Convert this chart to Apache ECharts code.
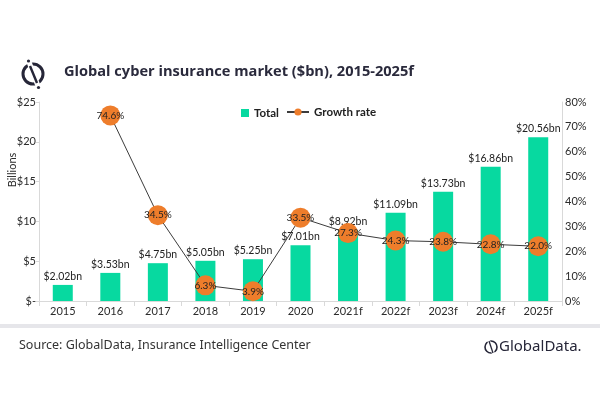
<!DOCTYPE html>
<html>
<head>
<meta charset="utf-8">
<script src="https://cdn.jsdelivr.net/npm/echarts@6/dist/echarts.min.js"></script>
<style>
    html, body { margin: 0; padding: 0; background: #fff; }
    #chart { width: 600px; height: 400px; }
</style>
</head>
<body>
<div id="chart"></div>
<script>
var years = ["2015", "2016", "2017", "2018", "2019", "2020", "2021f", "2022f", "2023f", "2024f", "2025f"];
var totals = [2.02, 3.53, 4.75, 5.05, 5.25, 7.01, 8.92, 11.09, 13.73, 16.86, 20.56];
var growth = [null, 74.6, 34.5, 6.3, 3.9, 33.5, 27.3, 24.3, 23.8, 22.8, 22.0];
var leftTicks = ["$-", "$5", "$10", "$15", "$20", "$25"];

(function() {
    var chart = echarts.init(document.getElementById("chart"), null, { renderer: "canvas" }),
        font = "Lato",
        ink = "#2b2b2b";

    var legendText = { fontSize: 11.5, fontWeight: "bold", color: "#222", fontFamily: font };

    var option = {
        backgroundColor: "#fff",
        animation: false,
        textStyle: { fontFamily: font },
        grid: { left: 39, right: 38, top: 102, bottom: 99, outerBoundsMode: "none", containLabel: false },
        legend: [
            {
                left: 236, top: 102,
                itemWidth: 8, itemHeight: 8, itemGap: 4,
                textStyle: legendText,
                data: [{ name: "Total", icon: "rect" }]
            },
            {
                left: 281, top: 101,
                itemWidth: 22, itemHeight: 9,
                textStyle: legendText,
                data: [{ name: "Growth rate" }]
            }
        ],
        graphic: [
            // logo mark
            { type: "circle", shape: { cx: 33, cy: 74, r: 10 }, style: { fill: "none", stroke: "#262638", lineWidth: 3 } },
            { type: "line", shape: { x1: 29, y1: 62, x2: 38, y2: 86 }, style: { stroke: "#fff", lineWidth: 5 } },
            { type: "line", shape: { x1: 30, y1: 66, x2: 37, y2: 83 }, style: { stroke: "#262638", lineWidth: 2.4 } },
            { type: "circle", shape: { cx: 28.5, cy: 61, r: 1.6 }, style: { fill: "#262638" } },
            { type: "circle", shape: { cx: 38.5, cy: 87.5, r: 1.6 }, style: { fill: "#262638" } },
            {
                type: "text", left: 64, top: 64,
                style: { text: "Global cyber insurance market ($bn), 2015-2025f", fill: "#2a2a3c", font: "bold 14.6px 'Open Sans'" }
            },
            // y axis title
            {
                type: "text", x: 12, y: 170, rotation: Math.PI / 2,
                style: { text: "Billions", fill: ink, font: "11px Lato", align: "center", verticalAlign: "middle" }
            },
            // grey separator band
            { type: "rect", shape: { x: 0, y: 324, width: 600, height: 4 }, style: { fill: "#e6e6ea" } },
            {
                type: "text", left: 19, top: 339,
                style: { text: "Source: GlobalData, Insurance Intelligence Center", fill: "#333", font: "12.5px 'Noto Sans'" }
            },
            // footer logo
            { type: "circle", shape: { cx: 491, cy: 347, r: 6 }, style: { fill: "none", stroke: "#262638", lineWidth: 1.6 } },
            { type: "line", shape: { x1: 488, y1: 339, x2: 494, y2: 355 }, style: { stroke: "#fff", lineWidth: 3 } },
            { type: "line", shape: { x1: 489, y1: 341, x2: 493, y2: 353 }, style: { stroke: "#262638", lineWidth: 1.3 } },
            {
                type: "text", left: 499, top: 339,
                style: { text: "GlobalData.", fill: "#262638", font: "15px 'Noto Sans'" }
            }
        ],
        xAxis: {
            type: "category",
            data: years,
            axisLine: { lineStyle: { color: "#d9d9d9" } },
            axisTick: { show: true, lineStyle: { color: "#d9d9d9" } },
            axisLabel: { color: ink, fontSize: 11, margin: 5 }
        },
        yAxis: [
            {
                type: "value",
                min: 0, max: 25, interval: 5,
                axisLine: { show: true, lineStyle: { color: "#d9d9d9" } },
                axisTick: { show: true, length: 3, lineStyle: { color: "#d9d9d9" } },
                splitLine: { show: false },
                axisLabel: {
                    color: ink, fontSize: 11, margin: 3,
                    formatter: function(v) { return leftTicks[v / 5]; }
                }
            },
            {
                type: "value",
                min: 0, max: 80, interval: 10,
                position: "right",
                axisLine: { show: true, lineStyle: { color: "#d9d9d9" } },
                axisTick: { show: false },
                splitLine: { show: false },
                axisLabel: { color: ink, fontSize: 11, margin: 3, formatter: "{value}%" }
            }
        ],
        series: [
            {
                name: "Total",
                type: "bar",
                barWidth: 20,
                itemStyle: { color: "#07d9a0" },
                label: {
                    show: true,
                    position: "top",
                    distance: 3,
                    color: "#222",
                    fontSize: 10.5,
                    formatter: function(p) { return "$" + p.value.toFixed(2) + "bn"; }
                },
                data: totals
            },
            {
                name: "Growth rate",
                type: "line",
                yAxisIndex: 1,
                symbol: "circle",
                symbolSize: 20,
                connectNulls: true,
                lineStyle: { color: "#3c3c3c", width: 1 },
                itemStyle: { color: "#ee7d2b" },
                label: {
                    show: true,
                    position: "inside",
                    color: "#222",
                    fontSize: 10,
                    formatter: function(p) { return p.value.toFixed(1) + "%"; }
                },
                data: growth
            }
        ]
    };

    chart.setOption(option);
}());
</script>
</body>
</html>
